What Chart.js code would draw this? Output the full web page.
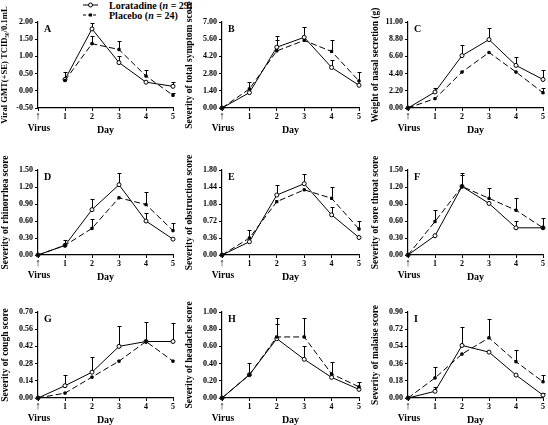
<!DOCTYPE html>
<html><head><meta charset="utf-8">
<script src="https://cdn.jsdelivr.net/npm/chart.js@4.4.1/dist/chart.umd.min.js"></script>
<style>
html,body{margin:0;padding:0;background:#fff;width:548px;height:425px;overflow:hidden;position:relative;font-family:"Liberation Serif",serif}
canvas{position:absolute}
.lg{position:absolute;left:83px;height:10px;line-height:10px;font:bold 10px "Liberation Serif",serif;color:#000;white-space:nowrap}
.lg svg{position:absolute;left:0;top:1px}
.lg span{position:absolute;left:26px;top:0}
</style></head><body>
<div class="lg" style="top:0px"><svg width="15" height="8"><line x1="0" y1="4" x2="15" y2="4" stroke="#000" stroke-width="1"/><circle cx="7.5" cy="4" r="2" fill="#fff" stroke="#000" stroke-width="1"/></svg><span>Loratadine (<i>n</i> = 29)</span></div>
<div class="lg" style="top:10px"><svg width="15" height="8"><line x1="0" y1="4" x2="15" y2="4" stroke="#000" stroke-width="1.2" stroke-dasharray="3,2"/><rect x="6" y="2.5" width="3" height="3" fill="#000"/></svg><span>Placebo (<i>n</i> = 24)</span></div>
<canvas id="cA"></canvas><canvas id="cB"></canvas><canvas id="cC"></canvas>
<canvas id="cD"></canvas><canvas id="cE"></canvas><canvas id="cF"></canvas>
<canvas id="cG"></canvas><canvas id="cH"></canvas><canvas id="cI"></canvas>
<script>
// ---- data ----
const days = [0, 1, 2, 3, 4, 5];

const ticksA = [-0.5, 0, 0.5, 1.0, 1.5, 2.0];
const lorA   = [null, 0.33, 1.80, 0.82, 0.25, 0.13];
const lorSeA = [null, 0.22, 0.18, 0.18, null, 0.14];
const plaA   = [null, 0.30, 1.37, 1.20, 0.43, -0.13];
const plaSeA = [null, null, 0.23, 0.25, 0.17, 0.08];

const ticksB = [0, 1.4, 2.8, 4.2, 5.6, 7.0];
const lorB   = [0, 1.25, 4.95, 5.75, 3.30, 1.85];
const lorSeB = [null, null, 0.55, 0.85, 0.60, null];
const plaB   = [0, 1.55, 4.65, 5.50, 4.60, 2.20];
const plaSeB = [null, 0.60, 1.20, null, 0.95, 0.70];

const ticksC = [0, 2.2, 4.4, 6.6, 8.8, 11.0];
const lorC   = [0, 2.05, 6.70, 8.75, 5.45, 3.65];
const lorSeC = [null, 0.50, 1.40, 1.45, 1.10, 1.25];
const plaC   = [0, 1.20, 4.60, 7.10, 4.60, 1.95];
const plaSeC = [null, null, null, null, null, 0.60];

const ticksD = [0, 0.3, 0.6, 0.9, 1.2, 1.5];
const lorD   = [0, 0.17, 0.80, 1.24, 0.60, 0.28];
const lorSeD = [null, 0.10, 0.19, 0.21, 0.15, null];
const plaD   = [0, 0.17, 0.47, 1.01, 0.89, 0.43];
const plaSeD = [null, null, 0.16, null, 0.23, 0.14];

const ticksE = [0, 0.36, 0.72, 1.08, 1.44, 1.8];
const lorE   = [0, 0.28, 1.27, 1.51, 0.85, 0.37];
const lorSeE = [null, null, 0.22, 0.21, 0.16, null];
const plaE   = [0, 0.36, 1.13, 1.38, 1.20, 0.55];
const plaSeE = [null, 0.16, null, null, 0.23, 0.16];

const ticksF = [0, 0.3, 0.6, 0.9, 1.2, 1.5];
const lorF   = [0, 0.34, 1.21, 0.91, 0.48, 0.48];
const lorSeF = [null, null, 0.24, null, 0.12, null];
const plaF   = [0, 0.59, 1.21, 1.00, 0.79, 0.48];
const plaSeF = [null, 0.20, 0.20, 0.19, 0.22, 0.18];

const ticksG = [0, 0.14, 0.28, 0.42, 0.56, 0.70];
const lorG   = [0, 0.10, 0.21, 0.42, 0.46, 0.46];
const lorSeG = [null, 0.09, 0.12, 0.17, 0.16, 0.15];
const plaG   = [0, 0.04, 0.17, 0.30, 0.46, 0.30];
const plaSeG = [null, null, null, null, null, null];

const ticksH = [0, 0.2, 0.4, 0.6, 0.8, 1.0];
const lorH   = [0, 0.27, 0.69, 0.45, 0.24, 0.10];
const lorSeH = [null, 0.14, 0.17, 0.15, null, null];
const plaH   = [0, 0.27, 0.71, 0.71, 0.28, 0.13];
const plaSeH = [null, null, 0.22, 0.22, 0.14, 0.06];

const ticksI = [0, 0.18, 0.36, 0.54, 0.72, 0.90];
const lorI   = [0, 0.07, 0.55, 0.48, 0.24, 0.03];
const lorSeI = [null, 0.04, 0.19, null, null, 0.02];
const plaI   = [0, 0.21, 0.46, 0.63, 0.38, 0.17];
const plaSeI = [null, 0.11, null, 0.20, 0.12, 0.07];

const titles = {
  A: 'Viral GMT(+SE) TCID\u2085\u2080/0.1mL',
  B: 'Severity of total symptom score',
  C: 'Weight of nasal secretion (g)',
  D: 'Severity of rhinorrhea score',
  E: 'Severity of obstruction score',
  F: 'Severity of sore throat score',
  G: 'Severity of cough score',
  H: 'Severity of headache score',
  I: 'Severity of malaise score'
};
const inoculationLabel = 'Virus';

// ---- layout ----
const FAM = '"Liberation Serif", "Times New Roman", serif';
const colX = [0, 184, 370], colW = [178, 180, 178];
const rowY = [0, 148, 290], rowPlotH = [86, 85, 86];

const errorBars = {
  id: 'errorBars',
  beforeDatasetsDraw(chart) {
    const {ctx, scales: {x, y}} = chart;
    ctx.save();
    ctx.strokeStyle = '#000'; ctx.lineWidth = 1; ctx.setLineDash([]);
    chart.data.datasets.forEach(ds => {
      if (!ds.errors) return;
      ds.data.forEach((v, i) => {
        const e = ds.errors[i];
        if (e == null || v == null) return;
        const px = Math.round(x.getPixelForValue(chart.data.labels[i])) + 0.5;
        const y0 = y.getPixelForValue(v), y1 = Math.round(y.getPixelForValue(v + e)) + 0.5;
        ctx.beginPath();
        ctx.moveTo(px, y0); ctx.lineTo(px, y1);
        ctx.moveTo(px - 2, y1); ctx.lineTo(px + 2, y1);
        ctx.stroke();
      });
    });
    ctx.restore();
  }
};
const panelText = {
  id: 'panelText',
  afterDraw(chart, args, opts) {
    const {ctx, chartArea, scales: {x}} = chart;
    ctx.save();
    ctx.fillStyle = '#000'; ctx.textBaseline = 'middle'; ctx.textAlign = 'left';
    ctx.font = 'bold 10px ' + FAM;
    ctx.fillText(opts.text, chartArea.left + 6, chartArea.top + 7);
    // virus inoculation marker under day 0
    const x0 = x.getPixelForValue(days[0]);
    ctx.textAlign = 'center';
    ctx.font = '11px ' + FAM;
    ctx.fillText('\u2191', x0, chartArea.bottom + 8);
    ctx.font = 'bold 9.5px ' + FAM;
    ctx.fillText(inoculationLabel, x0 + 1, chartArea.bottom + 21);
    ctx.restore();
  }
};

function makePanel(key, col, row, ticks, lor, lorSe, pla, plaSe) {
  const cv = document.getElementById('c' + key);
  const w = colW[col], h = 22 + rowPlotH[row] + 28;
  cv.width = w; cv.height = h;
  cv.style.left = colX[col] + 'px'; cv.style.top = rowY[row] + 'px';
  cv.style.width = w + 'px'; cv.style.height = h + 'px';
  const tickFont = {family: FAM, size: 8, weight: 'bold'};
  new Chart(cv, {
    type: 'line',
    data: {
      labels: days,
      datasets: [
        {label: 'Placebo (n = 24)', data: pla, errors: plaSe, borderColor: '#000', borderWidth: 1,
         borderDash: [6, 3], pointStyle: 'rect', pointRadius: 1.6, pointBackgroundColor: '#000',
         pointBorderColor: '#000', pointBorderWidth: 1, tension: 0, clip: false, fill: false},
        {label: 'Loratadine (n = 29)', data: lor, errors: lorSe, borderColor: '#000', borderWidth: 1,
         pointStyle: 'circle', pointRadius: 2, pointBackgroundColor: '#fff',
         pointBorderColor: '#000', pointBorderWidth: 1, tension: 0, clip: false, fill: false}
      ]
    },
    options: {
      responsive: false, animation: false, devicePixelRatio: 1,
      layout: {padding: {left: 0, right: 3, top: 22, bottom: 0}},
      plugins: {legend: {display: false}, tooltip: {enabled: false}, panelText: {text: key}},
      scales: {
        x: {
          type: 'linear', min: 0, max: 5,
          afterBuildTicks: s => { s.ticks = days.map(v => ({value: v})); },
          ticks: {callback: v => v === 0 ? '' : String(v), font: tickFont, color: '#000',
                  padding: 1, maxRotation: 0, autoSkip: false},
          grid: {display: true, drawOnChartArea: false, drawTicks: true, tickLength: 3, color: '#000'},
          border: {display: true, color: '#000', width: 1.2},
          title: {display: true, text: 'Day', font: {family: FAM, size: 10, weight: 'bold'}, color: '#000', padding: 0},
          afterFit: s => { s.height = 28; s.paddingLeft = 0; s.paddingRight = 0; }
        },
        y: {
          min: ticks[0], max: ticks[ticks.length - 1],
          afterBuildTicks: s => { s.ticks = ticks.map(v => ({value: v})); },
          ticks: {callback: v => v.toFixed(2), font: tickFont, color: '#000', padding: 2, autoSkip: false},
          grid: {display: true, drawOnChartArea: false, drawTicks: true, tickLength: 3, color: '#000'},
          border: {display: true, color: '#000', width: 1.2},
          title: {display: true, text: titles[key], font: {family: FAM, size: key === 'A' ? 8.6 : 9.5, weight: 'bold'}, color: '#000', padding: 0},
          afterFit: s => { s.width = 38; s.paddingTop = 0; s.paddingBottom = 0; }
        }
      }
    },
    plugins: [errorBars, panelText]
  });
}

makePanel('A', 0, 0, ticksA, lorA, lorSeA, plaA, plaSeA);
makePanel('B', 1, 0, ticksB, lorB, lorSeB, plaB, plaSeB);
makePanel('C', 2, 0, ticksC, lorC, lorSeC, plaC, plaSeC);
makePanel('D', 0, 1, ticksD, lorD, lorSeD, plaD, plaSeD);
makePanel('E', 1, 1, ticksE, lorE, lorSeE, plaE, plaSeE);
makePanel('F', 2, 1, ticksF, lorF, lorSeF, plaF, plaSeF);
makePanel('G', 0, 2, ticksG, lorG, lorSeG, plaG, plaSeG);
makePanel('H', 1, 2, ticksH, lorH, lorSeH, plaH, plaSeH);
makePanel('I', 2, 2, ticksI, lorI, lorSeI, plaI, plaSeI);
</script>
</body></html>
